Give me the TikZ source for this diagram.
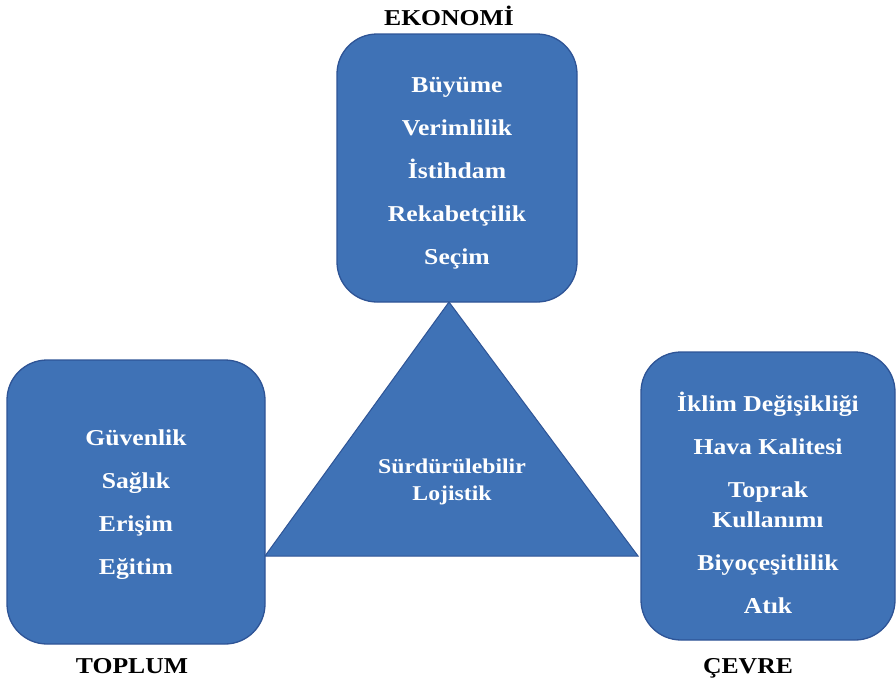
\documentclass[tikz,border=0pt]{standalone}
\usepackage{fontspec}
\setmainfont{Liberation Serif}[FakeStretch=1.13]
\usepackage{tikz}
\usetikzlibrary{positioning}
\definecolor{boxblue}{RGB}{63,114,182}
\definecolor{boxedge}{RGB}{46,84,150}
\begin{document}
\begin{tikzpicture}[x=1pt,y=-1pt,
   pillar/.style={draw=boxedge,fill=boxblue,line width=1.3pt,rounded corners=40pt,inner sep=0pt},
   items/.style={text=white,align=center,inner sep=0pt,font=\fontsize{22.7}{30}\selectfont\bfseries},
   head/.style={anchor=base,font=\fontsize{22.7}{27}\selectfont\bfseries}]
\useasboundingbox (0,0) rectangle (896,686);
% centre triangle, drawn first so the boxes sit on its corners
\filldraw[fill=boxblue,draw=boxedge,line width=1pt] (449,302) -- (265,556) -- (638,556) -- cycle;
\node[align=center,text=white,font=\fontsize{21}{27}\selectfont\bfseries] (core) at (452,482) {Sürdürülebilir\\Lojistik};
% the three pillars
\node[pillar,minimum width=240pt,minimum height=268pt] (eko) at (457,168) {};
\node[pillar,minimum width=258pt,minimum height=284pt] (top) at (136,502) {};
\node[pillar,minimum width=254pt,minimum height=288pt] (cev) at (768,496) {};
\node[items] (ekotxt) at ([yshift=-5pt]eko.center)
   {Büyüme\\[13pt]Verimlilik\\[13pt]İstihdam\\[13pt]Rekabetçilik\\[13pt]Seçim};
\node[items] (toptxt) at ([yshift=-3pt]top.center)
   {Güvenlik\\[13pt]Sağlık\\[13pt]Erişim\\[13pt]Eğitim};
\node[items] (cevtxt) at ([yshift=-7pt]cev.center)
   {İklim Değişikliği\\[13pt]Hava Kalitesi\\[13pt]Toprak\\Kullanımı\\[13pt]Biyoçeşitlilik\\[13pt]Atık};
% headings
\node[head] (ekolbl) at (449,25) {EKONOMİ};
\node[head] (toplbl) at (132,673) {TOPLUM};
\node[head] (cevlbl) at (748,673) {ÇEVRE};
\end{tikzpicture}
\end{document}
